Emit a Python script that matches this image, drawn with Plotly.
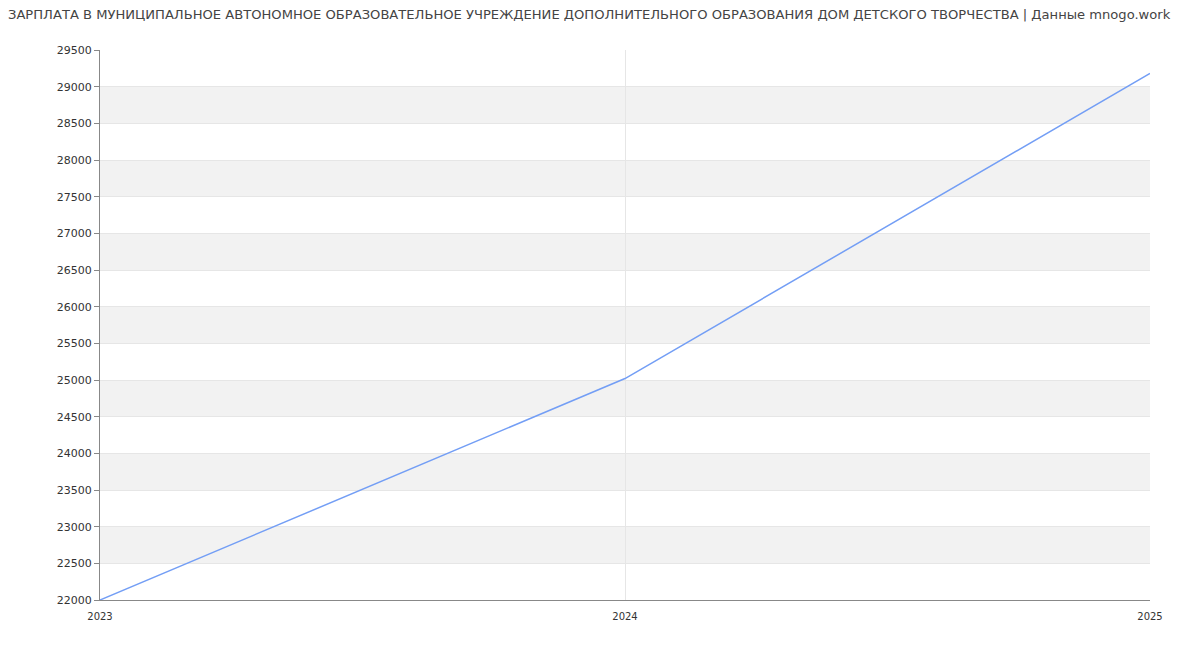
import plotly.graph_objs as go

# Salary data
years = [2023, 2024, 2025]
salary = [22000, 25020, 29180]

title_text = ('ЗАРПЛАТА В МУНИЦИПАЛЬНОЕ АВТОНОМНОЕ ОБРАЗОВАТЕЛЬНОЕ УЧРЕЖДЕНИЕ '
              'ДОПОЛНИТЕЛЬНОГО ОБРАЗОВАНИЯ ДОМ ДЕТСКОГО ТВОРЧЕСТВА | Данные mnogo.work')

y_min, y_max, y_step = 22000, 29500, 500

fig = go.Figure()
fig.add_trace(go.Scatter(
    x=years, y=salary, mode='lines',
    line=dict(color='#739ef5', width=1.5),
    hoverinfo='x+y', showlegend=False,
))

# alternating gray bands
shapes = []
for lo in range(y_min + y_step, y_max, 2 * y_step):
    shapes.append(dict(
        type='rect', xref='paper', yref='y', x0=0, x1=1, y0=lo, y1=lo + y_step,
        fillcolor='#f2f2f2', line=dict(width=0), layer='below',
    ))

fig.update_layout(
    width=1200, height=650,
    margin=dict(l=92, r=58, t=42, b=58),
    paper_bgcolor='white', plot_bgcolor='white',
    font=dict(family='DejaVu Sans', size=11, color='#333'),
    title=dict(text=title_text, xref='container', x=0, xanchor='left',
               yref='container', y=1 - 2 / 650, yanchor='top',
               font=dict(family='DejaVu Sans', size=13.1, color='#444')),
    shapes=shapes,
    xaxis=dict(
        range=[2023, 2025], tickvals=years, ticktext=[str(y) for y in years],
        showgrid=True, gridcolor='#e6e6e6', zeroline=False,
        showline=True, linecolor='#888', linewidth=1,
        ticks='outside', ticklen=7, tickcolor='rgba(0,0,0,0)',
        tickfont=dict(size=10, color='#333'),
    ),
    yaxis=dict(
        range=[y_min, y_max], dtick=y_step, tickformat='d',
        showgrid=True, gridcolor='#e6e6e6', zeroline=False,
        showline=True, linecolor='#888', linewidth=1,
        ticks='outside', ticklen=5, tickcolor='#888',
        tickfont=dict(size=11, color='#333'),
    ),
)

fig.write_html("out.html")
